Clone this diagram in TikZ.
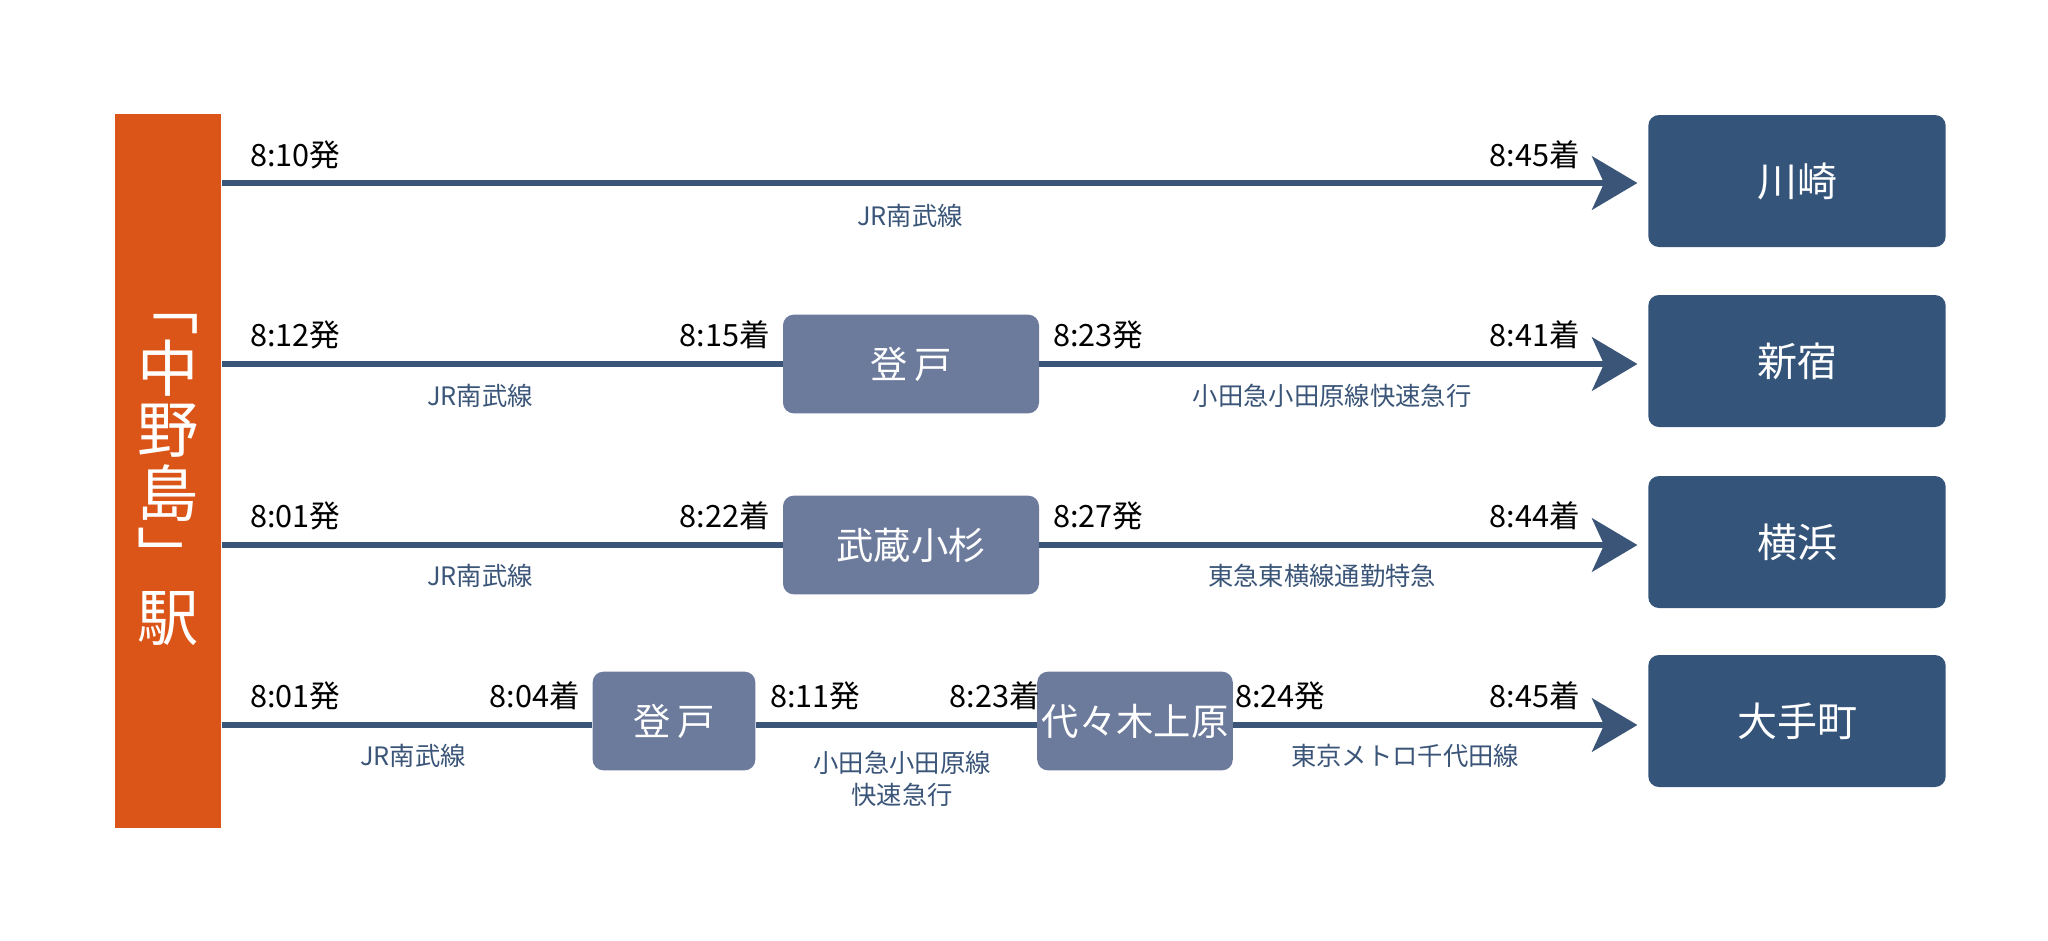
\documentclass[tikz,border=0pt]{standalone}
\usepackage{fontspec}
\setmainfont{Noto Sans CJK JP}
\usetikzlibrary{arrows.meta, positioning}
\definecolor{startColor}{HTML}{DC5518}
\definecolor{destColor}{HTML}{34547A}
\definecolor{viaColor}{HTML}{6C7B9C}
\definecolor{lineColor}{HTML}{3A5578}
\tikzstyle{start} = [rectangle, fill=startColor, text=white, minimum width=80pt, minimum height=535pt, inner sep=0pt, font=\fontsize{46}{50}\selectfont]
\tikzstyle{dest} = [rectangle, rounded corners=8pt, fill=destColor, text=white, minimum width=223pt, minimum height=99pt, font=\fontsize{30}{34}\selectfont]
\tikzstyle{via} = [rectangle, rounded corners=8pt, fill=viaColor, text=white, minimum height=74pt, font=\fontsize{28}{32}\selectfont]
\tikzstyle{arrow} = [line width=5pt, draw=lineColor, -{Stealth[length=34pt,width=40pt,inset=9pt]}]
\tikzstyle{seg} = [line width=5pt, draw=lineColor]
\tikzstyle{time} = [font=\fontsize{23}{26}\selectfont, inner sep=0pt]
\tikzstyle{linename} = [font=\fontsize{19}{24}\selectfont, text=lineColor, align=center, inner sep=0pt]

\begin{document}
\begin{tikzpicture}[x=0.75pt,y=-0.75pt]
    \useasboundingbox (0,0) rectangle (2048,940);
    % Nodes
    \node[start] (nakanoshima) at (168,471) {\begin{tabular}{@{}c@{}}﹁\\[-6pt]中\\[-6pt]野\\[-6pt]島\\[-6pt]﹂\\[-6pt]駅\end{tabular}};
    \node[dest] (kawasaki) at (1797,181) {川崎};
    \node[dest] (shinjuku) at (1797,361) {新宿};
    \node[dest] (yokohama) at (1797,542) {横浜};
    \node[dest] (otemachi) at (1797,721) {大手町};
    \node[via, minimum width=192pt] (noborito) at (911,364) {登\,戸};
    \node[via, minimum width=192pt] (musashikosugi) at (911,545) {武蔵小杉};
    \node[via, minimum width=122pt] (noborito2) at (674,721) {登\,戸};
    \node[via, minimum width=122pt] (yoyogi) at (1135,721) {代々木上原};
    \coordinate (r1) at (222,183);
    \coordinate (r2) at (222,364);
    \coordinate (r3) at (222,545);
    \coordinate (r4) at (222,725);

    % Arrows
    \draw[arrow] (r1) -- ([xshift=-8pt]kawasaki.west |- r1);
    \draw[seg] (r2) -- (noborito);
    \draw[arrow] (noborito) -- ([xshift=-8pt]shinjuku.west |- r2);
    \draw[seg] (r3) -- (musashikosugi);
    \draw[arrow] (musashikosugi) -- ([xshift=-8pt]yokohama.west |- r3);
    \draw[seg] (r4) -- (noborito2.west |- r4);
    \draw[seg] (noborito2.east |- r4) -- (yoyogi.west |- r4);
    \draw[arrow] (yoyogi.east |- r4) -- ([xshift=-8pt]otemachi.west |- r4);

    % Times
    \node[time, anchor=west] at (250,155) {8:10発};
    \node[time, anchor=east] at (1580,155) {8:45着};
    \node[time, anchor=west] at (250,335) {8:12発};
    \node[time, anchor=east] at (770,335) {8:15着};
    \node[time, anchor=west] at (1053,335) {8:23発};
    \node[time, anchor=east] at (1580,335) {8:41着};
    \node[time, anchor=west] at (250,516) {8:01発};
    \node[time, anchor=east] at (770,516) {8:22着};
    \node[time, anchor=west] at (1053,516) {8:27発};
    \node[time, anchor=east] at (1580,516) {8:44着};
    \node[time, anchor=west] at (250,696) {8:01発};
    \node[time, anchor=east] at (580,696) {8:04着};
    \node[time, anchor=west] at (770,696) {8:11発};
    \node[time, anchor=east] at (1040,696) {8:23着};
    \node[time, anchor=west] at (1235,696) {8:24発};
    \node[time, anchor=east] at (1580,696) {8:45着};

    % Line names
    \node[linename] at (910,216) {JR南武線};
    \node[linename] at (480,396) {JR南武線};
    \node[linename] at (1332,396) {小田急小田原線快速急行};
    \node[linename] at (480,576) {JR南武線};
    \node[linename] at (1322,576) {東急東横線通勤特急};
    \node[linename] at (413,756) {JR南武線};
    \node[linename] at (902,779) {小田急小田原線\\快速急行};
    \node[linename] at (1405,756) {東京メトロ千代田線};
\end{tikzpicture}
\end{document}
